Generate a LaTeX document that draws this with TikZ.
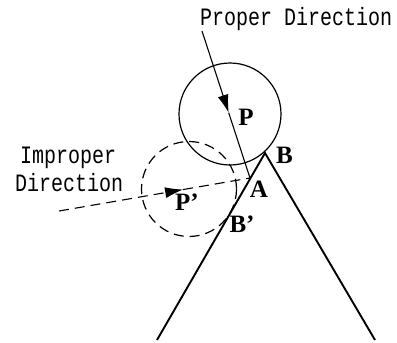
\documentclass[tikz,border=0pt]{standalone}
\usepackage{fontspec}
\setmainfont{Liberation Serif}
\setmonofont{Liberation Mono}
\usetikzlibrary{arrows.meta,calc}
\tikzset{
  lbl/.style={font=\bfseries\fontsize{25}{25}\selectfont, inner sep=0pt},
  mono/.style={font=\ttfamily\fontsize{20}{24}\selectfont, inner sep=0pt, anchor=base west},
  leg/.style={line width=1.9pt},
  circ/.style={line width=1.2pt},
  dir/.style={line width=1.1pt},
  dsh/.style={dash pattern=on 10pt off 6pt},
  tip/.style={-{Latex[length=18pt,width=11pt]}}
}
\begin{document}
\begin{tikzpicture}[x=1pt,y=-1pt]
  \useasboundingbox (0,0) rectangle (397,343);
  % triangle
  \coordinate (B) at (265,153);
  \coordinate (L) at (157,340);
  \coordinate (R) at (375,340);
  \draw[leg] (L) -- (B) -- (R);
  % circles
  \coordinate (Pc) at (230,114);
  \coordinate (Qc) at (189,189);
  \draw[circ] (Pc) circle[radius=51];
  \draw[circ,dsh] (Qc) circle[radius=47.5];
  % directions
  \coordinate (A) at (250,178);
  \coordinate (ps) at (202,31);
  \coordinate (is) at (59,211);
  \coordinate (pm) at ($(ps)!0.556!(A)$);
  \coordinate (im) at ($(is)!0.65!(A)$);
  \draw[dir,tip] (ps) -- (pm);
  \draw[dir] (pm) -- (A);
  \draw[dir,dsh,tip] (is) -- (im);
  \draw[dir,dsh] (im) -- (A);
  % texts
  \node[mono] (t1) at (200,25) {\scalebox{1}[1.25]{Proper Direction}};
  \node[mono] (t2) at (20,163) {\scalebox{1}[1.25]{Improper}};
  \node[mono] (t3) at (15,191) {\scalebox{1}[1.25]{Direction}};
  \node[lbl] (lP) at (246,117.5) {P};
  \node[lbl] (lB) at (284.5,155.5) {B};
  \node[lbl] (lA) at (259,189) {A};
  \node[lbl] (lBp) at (242,224) {B’};
  \node[lbl] (lPp) at (187,202) {P’};
\end{tikzpicture}
\end{document}
